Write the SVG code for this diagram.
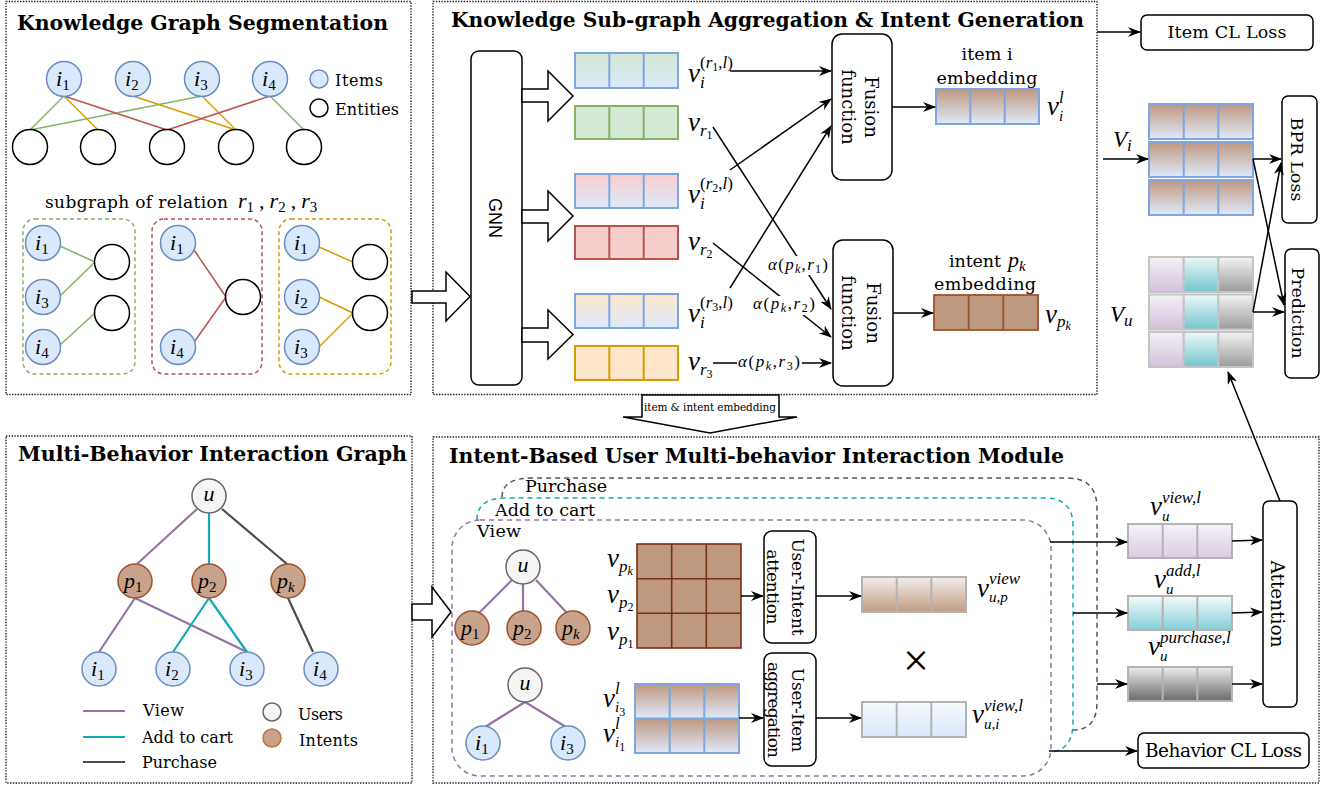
<svg xmlns="http://www.w3.org/2000/svg" width="1333" height="788" viewBox="0 0 1333 788">
<defs>
<style>
.panel{fill:none;stroke:#222;stroke-width:1.4;stroke-dasharray:1.4 1.4}
.ttl{font-family:"DejaVu Serif",serif;font-weight:bold;font-size:20px;fill:#000}
.t{font-family:"DejaVu Serif",serif;font-size:16px;fill:#000}
.tb{font-family:"DejaVu Serif",serif;font-size:17.5px;fill:#000}
.ts{font-family:"DejaVu Serif",serif;font-size:10.5px;fill:#000}
.sans{font-family:"Liberation Sans",Arial,sans-serif;font-size:18px;fill:#000}
.m,.mn,.mx,.mv{font-family:"Liberation Serif","Times New Roman",serif;font-style:italic;fill:#000}
.m{font-size:27px}
.mn{font-size:22px}
.mx{font-size:17px}
.mv{font-size:23px}
.item{fill:#dae8fc;stroke:#6c8ebf;stroke-width:1.5}
.ent{fill:#fff;stroke:#000;stroke-width:1.5}
.user{fill:#f5f5f5;stroke:#666;stroke-width:1.5}
.intent{fill:#c8a38c;stroke:#a0522d;stroke-width:1.5}
.box{fill:#fff;stroke:#000;stroke-width:1.5}
.arr{fill:none;stroke:#000;stroke-width:1.5;marker-end:url(#ah)}
.hol{fill:#fff;stroke:#000;stroke-width:1.5;stroke-linejoin:miter}
.g{stroke:#82b366;stroke-width:1.5}
.o{stroke:#d79b00;stroke-width:1.5}
.r{stroke:#b85450;stroke-width:1.5}
.pu{stroke:#9673a6;stroke-width:2.2}
.cy{stroke:#12aab5;stroke-width:2.2}
.dk{stroke:#4d4d4d;stroke-width:2.2}
.dg{fill:none;stroke:#82b366;stroke-width:1.5;stroke-dasharray:4 3}
.dr{fill:none;stroke:#b85450;stroke-width:1.5;stroke-dasharray:4 3}
.do{fill:none;stroke:#d79b00;stroke-width:1.5;stroke-dasharray:4 3}
.bb{stroke:#7ea6e0;stroke-width:2}
.bg{stroke:#b3b3b3;stroke-width:2}
</style>
<marker id="ah" viewBox="0 0 13 10" refX="12" refY="5" markerWidth="13" markerHeight="10" markerUnits="userSpaceOnUse" orient="auto"><path d="M0,0 L13,5 L0,10 L4,5 Z" fill="#000"/></marker>
<linearGradient id="gItem" x1="0" y1="0" x2="0" y2="1"><stop offset="0" stop-color="#bf977f"/><stop offset="1" stop-color="#dfeafa"/></linearGradient>
<linearGradient id="gGrn" x1="0" y1="0" x2="0" y2="1"><stop offset="0" stop-color="#d2e6d3"/><stop offset="1" stop-color="#dce9fa"/></linearGradient>
<linearGradient id="gRed" x1="0" y1="0" x2="0" y2="1"><stop offset="0" stop-color="#f8cecc"/><stop offset="1" stop-color="#dce9fa"/></linearGradient>
<linearGradient id="gOrg" x1="0" y1="0" x2="0" y2="1"><stop offset="0" stop-color="#ffe6cc"/><stop offset="1" stop-color="#dce9fa"/></linearGradient>
<linearGradient id="gVP" x1="0" y1="0" x2="0" y2="1"><stop offset="0" stop-color="#f4f1f6"/><stop offset="1" stop-color="#d4c0dc"/></linearGradient>
<linearGradient id="gVT" x1="0" y1="0" x2="0" y2="1"><stop offset="0" stop-color="#eef8f9"/><stop offset="1" stop-color="#72c5ce"/></linearGradient>
<linearGradient id="gVG" x1="0" y1="0" x2="0" y2="1"><stop offset="0" stop-color="#f3f3f3"/><stop offset="1" stop-color="#9b9b9b"/></linearGradient>
<linearGradient id="gView" x1="0" y1="0" x2="0" y2="1"><stop offset="0" stop-color="#f7f3f9"/><stop offset="1" stop-color="#dacbe3"/></linearGradient>
<linearGradient id="gAdd" x1="0" y1="0" x2="0" y2="1"><stop offset="0" stop-color="#f4fbfc"/><stop offset="1" stop-color="#84ced6"/></linearGradient>
<linearGradient id="gPur" x1="0" y1="0" x2="0" y2="1"><stop offset="0" stop-color="#ececec"/><stop offset="1" stop-color="#6b6b6b"/></linearGradient>
<linearGradient id="gUP" x1="0" y1="0" x2="0" y2="1"><stop offset="0" stop-color="#f5eeea"/><stop offset="1" stop-color="#c09b84"/></linearGradient>
<linearGradient id="gUI" x1="0" y1="0" x2="0" y2="1"><stop offset="0" stop-color="#f5f8fc"/><stop offset="1" stop-color="#dae8fc"/></linearGradient>
</defs>
<rect width="1333" height="788" fill="#fff"/>

<!-- ================= PANELS ================= -->
<g id="panels">
<rect class="panel" x="6" y="1.5" width="405" height="393"/>
<rect class="panel" x="433" y="1.5" width="664" height="393"/>
<rect class="panel" x="6" y="436" width="406" height="347"/>
<rect class="panel" x="433" y="437" width="886" height="346"/>
<text class="ttl" x="17" y="30" textLength="371" lengthAdjust="spacingAndGlyphs">Knowledge Graph Segmentation</text>
<text class="ttl" x="451" y="27" textLength="633" lengthAdjust="spacingAndGlyphs">Knowledge Sub-graph Aggregation &amp; Intent Generation</text>
<text class="ttl" x="18" y="461" textLength="389" lengthAdjust="spacingAndGlyphs">Multi-Behavior Interaction Graph</text>
<text class="ttl" x="449" y="463" textLength="615" lengthAdjust="spacingAndGlyphs">Intent-Based User Multi-behavior Interaction Module</text>
</g>

<!-- ================= TOP-LEFT: KG SEGMENTATION ================= -->
<g id="kg-edges" fill="none">
<line class="g" x1="64" y1="96" x2="30" y2="130"/>
<line class="g" x1="202" y1="96" x2="30" y2="130"/>
<line class="g" x1="270" y1="96" x2="304" y2="130"/>
<line class="o" x1="64" y1="96" x2="98" y2="130"/>
<line class="o" x1="133" y1="96" x2="236" y2="130"/>
<line class="o" x1="202" y1="96" x2="236" y2="130"/>
<line class="r" x1="64" y1="96" x2="167" y2="130"/>
<line class="r" x1="270" y1="96" x2="167" y2="130"/>
</g>
<g id="kg-i1"><circle class="item" cx="64" cy="79" r="17.5"/><text class="mn" x="56" y="86">i<tspan font-style="normal" font-size="15" dy="4">1</tspan></text></g>
<g id="kg-i2"><circle class="item" cx="133" cy="79" r="17.5"/><text class="mn" x="125" y="86">i<tspan font-style="normal" font-size="15" dy="4">2</tspan></text></g>
<g id="kg-i3"><circle class="item" cx="202" cy="79" r="17.5"/><text class="mn" x="194" y="86">i<tspan font-style="normal" font-size="15" dy="4">3</tspan></text></g>
<g id="kg-i4"><circle class="item" cx="270" cy="79" r="17.5"/><text class="mn" x="262" y="86">i<tspan font-style="normal" font-size="15" dy="4">4</tspan></text></g>
<g id="kg-e1"><circle class="ent" cx="30" cy="147" r="17.5"/></g>
<g id="kg-e2"><circle class="ent" cx="98" cy="147" r="17.5"/></g>
<g id="kg-e3"><circle class="ent" cx="167" cy="147" r="17.5"/></g>
<g id="kg-e4"><circle class="ent" cx="236" cy="147" r="17.5"/></g>
<g id="kg-e5"><circle class="ent" cx="304" cy="147" r="17.5"/></g>
<g id="kg-legend">
<circle class="item" cx="319" cy="79" r="9"/><text class="t" x="335" y="86" textLength="48">Items</text>
<circle class="ent" cx="319" cy="108" r="9"/><text class="t" x="335" y="115" textLength="64">Entities</text>
</g>
<g id="kg-sub-label">
<text class="t" x="45" y="208" style="font-size:17px" textLength="183">subgraph of relation</text>
<text class="mn" x="238" y="208">r<tspan font-style="normal" font-size="15" dy="4">1</tspan><tspan font-style="normal" dx="5" dy="-4">,</tspan><tspan dx="5">r</tspan><tspan font-style="normal" font-size="15" dy="4">2</tspan><tspan font-style="normal" dx="5" dy="-4">,</tspan><tspan dx="5">r</tspan><tspan font-style="normal" font-size="15" dy="4">3</tspan></text>
</g>
<g id="sub-r1">
<rect class="dg" x="23" y="219" width="112" height="155" rx="12"/>
<line class="g" x1="60" y1="246" x2="95" y2="262"/>
<line class="g" x1="60" y1="296" x2="95" y2="262"/>
<line class="g" x1="60" y1="345" x2="95" y2="313"/>
<circle class="item" cx="43" cy="243" r="17.5"/><text class="mn" x="35" y="250">i<tspan font-style="normal" font-size="15" dy="4">1</tspan></text>
<circle class="item" cx="43" cy="297" r="17.5"/><text class="mn" x="35" y="304">i<tspan font-style="normal" font-size="15" dy="4">3</tspan></text>
<circle class="item" cx="43" cy="347" r="17.5"/><text class="mn" x="35" y="354">i<tspan font-style="normal" font-size="15" dy="4">4</tspan></text>
<circle class="ent" cx="112" cy="262" r="17.5"/>
<circle class="ent" cx="112" cy="313" r="17.5"/>
</g>
<g id="sub-r2">
<rect class="dr" x="152" y="219" width="110" height="155" rx="12"/>
<line class="r" x1="192" y1="247" x2="226" y2="297"/>
<line class="r" x1="192" y1="345" x2="226" y2="297"/>
<circle class="item" cx="178" cy="243" r="17.5"/><text class="mn" x="170" y="250">i<tspan font-style="normal" font-size="15" dy="4">1</tspan></text>
<circle class="item" cx="178" cy="347" r="17.5"/><text class="mn" x="170" y="354">i<tspan font-style="normal" font-size="15" dy="4">4</tspan></text>
<circle class="ent" cx="243" cy="297" r="17.5"/>
</g>
<g id="sub-r3">
<rect class="do" x="279" y="219" width="112" height="155" rx="12"/>
<line class="o" x1="319" y1="247" x2="353" y2="262"/>
<line class="o" x1="319" y1="297" x2="353" y2="313"/>
<line class="o" x1="319" y1="347" x2="353" y2="313"/>
<circle class="item" cx="302" cy="243" r="17.5"/><text class="mn" x="294" y="250">i<tspan font-style="normal" font-size="15" dy="4">1</tspan></text>
<circle class="item" cx="302" cy="297" r="17.5"/><text class="mn" x="294" y="304">i<tspan font-style="normal" font-size="15" dy="4">2</tspan></text>
<circle class="item" cx="302" cy="347" r="17.5"/><text class="mn" x="294" y="354">i<tspan font-style="normal" font-size="15" dy="4">3</tspan></text>
<circle class="ent" cx="370" cy="262" r="17.5"/>
<circle class="ent" cx="370" cy="313" r="17.5"/>
</g>

<!-- ================= TOP-MIDDLE ================= -->
<g id="gnn"><rect class="box" x="471" y="51" width="51" height="334" rx="8"/>
<text class="sans" transform="translate(497,218) rotate(90)" text-anchor="middle" y="8">GNN</text></g>

<g id="bar-vir1"><rect x="575" y="53" width="103" height="35" fill="url(#gGrn)" class="bb"/><path class="bb" d="M609.3,53V88M643.7,53V88"/>
<text class="m" x="688" y="82">v<tspan font-size="17" dy="6">i</tspan><tspan font-size="17" font-style="normal" dx="-4.7" dy="-20">(</tspan><tspan font-size="17">r</tspan><tspan font-size="12" font-style="normal" dy="3">1</tspan><tspan font-size="17" font-style="normal" dy="-3">,</tspan><tspan font-size="17">l</tspan><tspan font-size="17" font-style="normal">)</tspan></text></g>
<g id="bar-vr1"><rect x="575" y="106" width="103" height="33" fill="#d5e8d4" stroke="#82b366" stroke-width="2"/><path stroke="#82b366" stroke-width="2" d="M609.3,106V139M643.7,106V139"/>
<text class="m" x="688" y="131">v<tspan font-size="17" dy="5">r</tspan><tspan font-size="12" font-style="normal" dy="3">1</tspan></text></g>
<g id="bar-vir2"><rect x="575" y="174" width="103" height="34" fill="url(#gRed)" class="bb"/><path class="bb" d="M609.3,174V208M643.7,174V208"/>
<text class="m" x="688" y="203">v<tspan font-size="17" dy="6">i</tspan><tspan font-size="17" font-style="normal" dx="-4.7" dy="-20">(</tspan><tspan font-size="17">r</tspan><tspan font-size="12" font-style="normal" dy="3">2</tspan><tspan font-size="17" font-style="normal" dy="-3">,</tspan><tspan font-size="17">l</tspan><tspan font-size="17" font-style="normal">)</tspan></text></g>
<g id="bar-vr2"><rect x="575" y="226" width="103" height="33" fill="#f8cecc" stroke="#b85450" stroke-width="2"/><path stroke="#b85450" stroke-width="2" d="M609.3,226V259M643.7,226V259"/>
<text class="m" x="688" y="250">v<tspan font-size="17" dy="5">r</tspan><tspan font-size="12" font-style="normal" dy="3">2</tspan></text></g>
<g id="bar-vir3"><rect x="575" y="294" width="103" height="34" fill="url(#gOrg)" class="bb"/><path class="bb" d="M609.3,294V328M643.7,294V328"/>
<text class="m" x="688" y="322">v<tspan font-size="17" dy="6">i</tspan><tspan font-size="17" font-style="normal" dx="-4.7" dy="-20">(</tspan><tspan font-size="17">r</tspan><tspan font-size="12" font-style="normal" dy="3">3</tspan><tspan font-size="17" font-style="normal" dy="-3">,</tspan><tspan font-size="17">l</tspan><tspan font-size="17" font-style="normal">)</tspan></text></g>
<g id="bar-vr3"><rect x="575" y="346" width="103" height="34" fill="#ffe6cc" stroke="#d79b00" stroke-width="2"/><path stroke="#d79b00" stroke-width="2" d="M609.3,346V380M643.7,346V380"/>
<text class="m" x="688" y="370">v<tspan font-size="17" dy="5">r</tspan><tspan font-size="12" font-style="normal" dy="3">3</tspan></text></g>

<g id="fusion-1"><rect class="box" x="832" y="34" width="60" height="146" rx="10"/>
<g transform="translate(862,107) rotate(90)" text-anchor="middle"><text class="tb" y="-3" style="font-size:18px">Fusion</text><text class="tb" y="20" style="font-size:18px">function</text></g></g>
<g id="fusion-2"><rect class="box" x="833" y="240" width="60" height="146" rx="10"/>
<g transform="translate(863,313) rotate(90)" text-anchor="middle"><text class="tb" y="-4" style="font-size:18px">Fusion</text><text class="tb" y="21" style="font-size:18px">function</text></g></g>

<g id="item-emb">
<text class="tb" x="987" y="60" text-anchor="middle" textLength="51">item i</text>
<text class="tb" x="987" y="84" text-anchor="middle" textLength="101">embedding</text>
<rect x="936" y="89" width="103" height="35" fill="url(#gItem)" class="bb"/><path class="bb" d="M970.3,89V124M1004.7,89V124"/>
<text class="m" x="1047" y="115">v<tspan font-size="15" dy="6">i</tspan><tspan font-size="17" dx="-4.2" dy="-18">l</tspan></text>
</g>
<g id="intent-emb">
<text class="tb" x="949" y="267" textLength="52">intent</text>
<text class="mn" x="1008" y="267">p<tspan font-size="15" dy="4">k</tspan></text>
<text class="tb" x="985" y="290" text-anchor="middle" textLength="102">embedding</text>
<rect x="934" y="295" width="104" height="35" fill="#bf9a82" stroke="#a0522d" stroke-width="1.8"/><path stroke="#a0522d" stroke-width="1.8" d="M968.7,295V330M1003.3,295V330"/>
<text class="m" x="1045" y="323">v<tspan font-size="17" dy="4">p</tspan><tspan font-size="12" dy="3">k</tspan></text>
</g>

<!-- ================= RIGHT AREA ================= -->
<g id="item-cl"><rect class="box" x="1141" y="15" width="172" height="35" rx="6"/><text class="tb" x="1227" y="38" text-anchor="middle" textLength="119">Item CL Loss</text></g>
<g id="vi-bars">
<rect x="1149" y="104" width="104" height="35" fill="url(#gItem)" class="bb"/><path class="bb" d="M1183.7,104V139M1218.3,104V139"/>
<rect x="1149" y="142" width="104" height="35" fill="url(#gItem)" class="bb"/><path class="bb" d="M1183.7,142V177M1218.3,142V177"/>
<rect x="1149" y="180" width="104" height="35" fill="url(#gItem)" class="bb"/><path class="bb" d="M1183.7,180V215M1218.3,180V215"/>
<text class="mv" x="1113" y="147">V<tspan font-size="17" dy="4">i</tspan></text>
</g>
<g id="vu-bars" stroke="#c4c4c4" stroke-width="2">
<rect x="1149" y="257" width="34.7" height="35" fill="url(#gVP)"/><rect x="1183.7" y="257" width="34.6" height="35" fill="url(#gVT)"/><rect x="1218.3" y="257" width="34.7" height="35" fill="url(#gVG)"/>
<rect x="1149" y="294.5" width="34.7" height="35" fill="url(#gVP)"/><rect x="1183.7" y="294.5" width="34.6" height="35" fill="url(#gVT)"/><rect x="1218.3" y="294.5" width="34.7" height="35" fill="url(#gVG)"/>
<rect x="1149" y="332" width="34.7" height="35" fill="url(#gVP)"/><rect x="1183.7" y="332" width="34.6" height="35" fill="url(#gVT)"/><rect x="1218.3" y="332" width="34.7" height="35" fill="url(#gVG)"/>
<text class="mv" x="1110" y="322" stroke="none">V<tspan font-size="17" dy="4">u</tspan></text>
</g>
<g id="bpr"><rect class="box" x="1282" y="96" width="35" height="127" rx="6"/><text class="tb" transform="translate(1299.5,159.5) rotate(90)" text-anchor="middle" y="9" textLength="84">BPR Loss</text></g>
<g id="pred"><rect class="box" x="1285" y="249" width="34" height="129" rx="6"/><text class="tb" transform="translate(1302,313) rotate(90)" text-anchor="middle" y="10" textLength="91">Prediction</text></g>

<!-- ================= BOTTOM-LEFT ================= -->
<g id="mb-edges" fill="none">
<line class="pu" x1="197" y1="509" x2="137" y2="564"/>
<line class="cy" x1="209" y1="513" x2="209" y2="564"/>
<line class="dk" x1="222" y1="509" x2="287" y2="564"/>
<line class="pu" x1="135" y1="598" x2="99" y2="652"/>
<line class="pu" x1="135" y1="598" x2="247" y2="652"/>
<line class="cy" x1="209" y1="598" x2="173" y2="652"/>
<line class="cy" x1="209" y1="598" x2="247" y2="652"/>
<line class="dk" x1="288" y1="598" x2="313" y2="652"/>
</g>
<g id="mb-u"><circle class="user" cx="209" cy="496" r="17"/><text class="mn" x="209" y="501" text-anchor="middle">u</text></g>
<g id="mb-p1"><circle class="intent" cx="135" cy="581" r="17"/><text class="mn" x="124" y="588">p<tspan font-style="normal" font-size="15" dy="4">1</tspan></text></g>
<g id="mb-p2"><circle class="intent" cx="209" cy="581" r="17"/><text class="mn" x="198" y="588">p<tspan font-style="normal" font-size="15" dy="4">2</tspan></text></g>
<g id="mb-pk"><circle class="intent" cx="288" cy="581" r="17"/><text class="mn" x="277" y="588">p<tspan font-size="15" dy="4">k</tspan></text></g>
<g id="mb-i1"><circle class="item" cx="99" cy="669" r="17"/><text class="mn" x="91" y="676">i<tspan font-style="normal" font-size="15" dy="4">1</tspan></text></g>
<g id="mb-i2"><circle class="item" cx="173" cy="669" r="17"/><text class="mn" x="165" y="676">i<tspan font-style="normal" font-size="15" dy="4">2</tspan></text></g>
<g id="mb-i3"><circle class="item" cx="247" cy="669" r="17"/><text class="mn" x="239" y="676">i<tspan font-style="normal" font-size="15" dy="4">3</tspan></text></g>
<g id="mb-i4"><circle class="item" cx="321" cy="669" r="17"/><text class="mn" x="313" y="676">i<tspan font-style="normal" font-size="15" dy="4">4</tspan></text></g>
<g id="mb-legend">
<line class="pu" x1="83" y1="711" x2="125" y2="711"/><text class="t" x="143" y="716" textLength="41">View</text>
<line class="cy" x1="83" y1="737" x2="125" y2="737"/><text class="t" x="142" y="743" textLength="91">Add to cart</text>
<line class="dk" x1="83" y1="762" x2="125" y2="762"/><text class="t" x="142" y="768" textLength="75">Purchase</text>
<circle class="user" cx="272" cy="712" r="9"/><text class="t" x="298" y="720" textLength="45">Users</text>
<circle cx="272" cy="738" r="9" fill="#c8a38c" stroke="#c0743a" stroke-width="1.5"/><text class="t" x="299" y="746" textLength="59">Intents</text>
</g>

<!-- ================= BOTTOM-MIDDLE ================= -->
<g id="beh-frames" fill="none" stroke-width="1.5" stroke-dasharray="5 4">
<path stroke="#555" d="M502,497 Q502,478 532,478 L1067,478 Q1097,478 1097,508 L1097,702 Q1097,730 1073,730"/>
<path stroke="#12aab5" d="M477,520 Q477,498 505,498 L1045,498 Q1073,498 1073,526 L1073,722 Q1073,750 1051,752"/>
<rect stroke="#9673a6" x="452" y="520" width="599" height="256" rx="28"/>
<text class="tb" x="525" y="492" stroke="none" fill="#000" textLength="82">Purchase</text>
<text class="tb" x="495" y="516" stroke="none" fill="#000" textLength="100">Add to cart</text>
<text class="tb" x="477" y="537" stroke="none" fill="#000" textLength="44">View</text>
</g>
<g id="tree1">
<line class="pu" x1="512" y1="580" x2="479" y2="613"/>
<line class="pu" x1="523" y1="584" x2="523" y2="611"/>
<line class="pu" x1="536" y1="580" x2="567" y2="613"/>
<circle class="user" cx="523" cy="567" r="17"/><text class="mn" x="523" y="572" text-anchor="middle">u</text>
<circle class="intent" cx="472" cy="628" r="17"/><text class="mn" x="461" y="635">p<tspan font-style="normal" font-size="15" dy="4">1</tspan></text>
<circle class="intent" cx="524" cy="628" r="17"/><text class="mn" x="513" y="635">p<tspan font-style="normal" font-size="15" dy="4">2</tspan></text>
<circle class="intent" cx="573" cy="628" r="17"/><text class="mn" x="562" y="635">p<tspan font-size="15" dy="4">k</tspan></text>
</g>
<g id="tree2">
<line class="pu" x1="525" y1="702" x2="485" y2="727"/>
<line class="pu" x1="525" y1="702" x2="566" y2="727"/>
<circle class="user" cx="525" cy="685" r="17"/><text class="mn" x="525" y="690" text-anchor="middle">u</text>
<circle class="item" cx="483" cy="743" r="17"/><text class="mn" x="475" y="750">i<tspan font-style="normal" font-size="15" dy="4">1</tspan></text>
<circle class="item" cx="568" cy="743" r="17"/><text class="mn" x="560" y="750">i<tspan font-style="normal" font-size="15" dy="4">3</tspan></text>
</g>
<g id="intent-matrix">
<rect x="637" y="544" width="104" height="104" fill="#bf9880" stroke="#7a2f12" stroke-width="1.6"/>
<path stroke="#7a2f12" stroke-width="1.6" d="M671.7,544V648M706.3,544V648M637,578.7H741M637,613.3H741"/>
<text class="m" x="607" y="567">v<tspan font-size="17" dy="5">p</tspan><tspan font-size="12" dy="3">k</tspan></text>
<text class="m" x="607" y="603">v<tspan font-size="17" dy="5">p</tspan><tspan font-style="normal" font-size="12" dy="3">2</tspan></text>
<text class="m" x="607" y="640">v<tspan font-size="17" dy="5">p</tspan><tspan font-style="normal" font-size="12" dy="3">1</tspan></text>
</g>
<g id="item-matrix">
<rect x="635" y="684" width="104" height="34.5" fill="url(#gItem)"/>
<rect x="635" y="718.5" width="104" height="34.5" fill="url(#gItem)"/>
<rect x="635" y="684" width="104" height="69" fill="none" class="bb"/>
<path class="bb" d="M669.7,684V753M704.3,684V753M635,718.5H739"/>
<text class="m" x="603" y="707">v<tspan font-size="15" dy="5">i</tspan><tspan font-style="normal" font-size="12" dy="4">3</tspan><tspan font-size="17" dx="-10.2" dy="-22">l</tspan></text>
<text class="m" x="603" y="742">v<tspan font-size="15" dy="5">i</tspan><tspan font-style="normal" font-size="12" dy="4">1</tspan><tspan font-size="17" dx="-10.2" dy="-22">l</tspan></text>
</g>
<g id="user-intent-att"><rect class="box" x="764" y="531" width="52" height="112" rx="8"/>
<g transform="translate(790,587) rotate(90)" text-anchor="middle"><text class="t" y="-2" style="font-size:17px" textLength="97">User-Intent</text><text class="t" y="23" style="font-size:17px" textLength="75">attention</text></g></g>
<g id="user-item-agg"><rect class="box" x="764" y="653" width="52" height="113" rx="8"/>
<g transform="translate(790,710) rotate(90)" text-anchor="middle"><text class="t" y="-2" style="font-size:17px" textLength="84">User-Item</text><text class="t" y="22" style="font-size:17px" textLength="96">aggregation</text></g></g>
<g id="bar-vup">
<rect x="862" y="577" width="104" height="35" fill="url(#gUP)" class="bg"/><path class="bg" d="M896.7,577V612M931.3,577V612"/>
<text class="m" x="977" y="597">v<tspan font-size="15" dy="5">u,p</tspan><tspan font-size="17" dx="-18.8" dy="-18">view</tspan></text>
</g>
<g id="times"><text x="916" y="676" text-anchor="middle" style="font-family:'Liberation Serif',serif;font-size:46px">×</text></g>
<g id="bar-vui">
<rect x="862" y="702" width="104" height="35" fill="url(#gUI)" class="bg"/><path class="bg" d="M896.7,702V737M931.3,702V737"/>
<text class="m" x="972" y="723">v<tspan font-size="15" dy="6">u,i</tspan><tspan font-size="17" dx="-15.4" dy="-18">view,l</tspan></text>
</g>
<g id="bar-view">
<rect x="1128" y="524" width="104" height="34" fill="url(#gView)" class="bg"/><path class="bg" d="M1162.7,524V558M1197.3,524V558"/>
<text class="m" x="1150" y="515">v<tspan font-size="15" dy="6">u</tspan><tspan font-size="17" dx="-7.5" dy="-18">view,l</tspan></text>
</g>
<g id="bar-add">
<rect x="1128" y="596" width="104" height="34" fill="url(#gAdd)" class="bg"/><path class="bg" d="M1162.7,596V630M1197.3,596V630"/>
<text class="m" x="1154" y="588">v<tspan font-size="15" dy="6">u</tspan><tspan font-size="17" dx="-7.5" dy="-18">add,l</tspan></text>
</g>
<g id="bar-pur">
<rect x="1128" y="667" width="104" height="34" fill="url(#gPur)" class="bg"/><path class="bg" d="M1162.7,667V701M1197.3,667V701"/>
<text class="m" x="1148" y="655">v<tspan font-size="15" dy="6">u</tspan><tspan font-size="17" dx="-7.5" dy="-18">purchase,l</tspan></text>
</g>
<g id="attention"><rect class="box" x="1263" y="501" width="34" height="206" rx="6"/><text class="tb" transform="translate(1280,604) rotate(90)" text-anchor="middle" y="9" style="font-size:18.5px" textLength="87">Attention</text></g>
<g id="behavior-cl"><rect class="box" x="1138" y="733" width="171" height="35" rx="6"/><text class="tb" x="1223.5" y="757" text-anchor="middle" style="font-size:18.5px" textLength="157">Behavior CL Loss</text></g>

<!-- ================= CONNECTORS ================= -->
<g id="connectors">
<polygon class="hol" points="412,291 446,291 446,272 470,296.5 446,321 446,303 412,303"/>
<polygon class="hol" points="522,89 548,89 548,71 573,96 548,121 548,102 522,102"/>
<polygon class="hol" points="522,210 548,210 548,191 573,216 548,241 548,223 522,223"/>
<polygon class="hol" points="522,328 548,328 548,310 573,334.5 548,359 548,342 522,342"/>
<polygon class="hol" points="412,604 432,604 432,587 451,612 432,637 432,620 412,620"/>
<polygon class="hol" points="642,395 779,395 779,417 797,417 710,433 623,417 642,417"/>
<text class="ts" x="710" y="411" text-anchor="middle" textLength="132">item &amp; intent embedding</text>

<line class="arr" x1="730" y1="71" x2="831" y2="71"/>
<line class="arr" x1="730" y1="170" x2="831" y2="99"/>
<line class="arr" x1="730" y1="288" x2="831" y2="126"/>
<line class="arr" x1="713" y1="127" x2="831" y2="309"/>
<line class="arr" x1="713" y1="243" x2="831" y2="337"/>
<line class="arr" x1="713" y1="363" x2="831" y2="363"/>
<rect x="766" y="256" width="64" height="19" fill="#fff"/>
<text class="mx" x="768" y="270" textLength="60">α<tspan font-style="normal">(</tspan>p<tspan font-size="12" dy="3">k</tspan><tspan font-style="normal" dy="-3">,</tspan>r<tspan font-style="normal" font-size="12" dy="3">1</tspan><tspan font-style="normal" dy="-3">)</tspan></text>
<rect x="751" y="296" width="66" height="19" fill="#fff"/>
<text class="mx" x="753" y="309" textLength="62">α<tspan font-style="normal">(</tspan>p<tspan font-size="12" dy="3">k</tspan><tspan font-style="normal" dy="-3">,</tspan>r<tspan font-style="normal" font-size="12" dy="3">2</tspan><tspan font-style="normal" dy="-3">)</tspan></text>
<rect x="737" y="354" width="65" height="19" fill="#fff"/>
<text class="mx" x="738" y="367" textLength="62">α<tspan font-style="normal">(</tspan>p<tspan font-size="12" dy="3">k</tspan><tspan font-style="normal" dy="-3">,</tspan>r<tspan font-style="normal" font-size="12" dy="3">3</tspan><tspan font-style="normal" dy="-3">)</tspan></text>
<line class="arr" x1="892" y1="107" x2="935" y2="107"/>
<line class="arr" x1="893" y1="313" x2="933" y2="313"/>

<line class="arr" x1="1097" y1="32" x2="1140" y2="32"/>
<line class="arr" x1="1103" y1="159" x2="1148" y2="159"/>
<line class="arr" x1="1253" y1="159" x2="1281" y2="159"/>
<line class="arr" x1="1253" y1="159" x2="1284" y2="305"/>
<line class="arr" x1="1253" y1="312" x2="1284" y2="312"/>
<line class="arr" x1="1253" y1="312" x2="1281" y2="163"/>
<line class="arr" x1="1280" y1="501" x2="1228" y2="372"/>

<line class="arr" x1="741" y1="596" x2="763" y2="596"/>
<line class="arr" x1="739" y1="718" x2="763" y2="718"/>
<line class="arr" x1="816" y1="596" x2="861" y2="596"/>
<line class="arr" x1="816" y1="718" x2="861" y2="718"/>
<line class="arr" x1="1050" y1="542" x2="1127" y2="542"/>
<line class="arr" x1="1073" y1="613" x2="1127" y2="613"/>
<line class="arr" x1="1097" y1="684" x2="1127" y2="684"/>
<line class="arr" x1="1232" y1="541" x2="1262" y2="540"/>
<line class="arr" x1="1232" y1="613" x2="1262" y2="612"/>
<line class="arr" x1="1232" y1="684" x2="1262" y2="684"/>
<line class="arr" x1="1049" y1="751" x2="1137" y2="751"/>
</g>
</svg>
